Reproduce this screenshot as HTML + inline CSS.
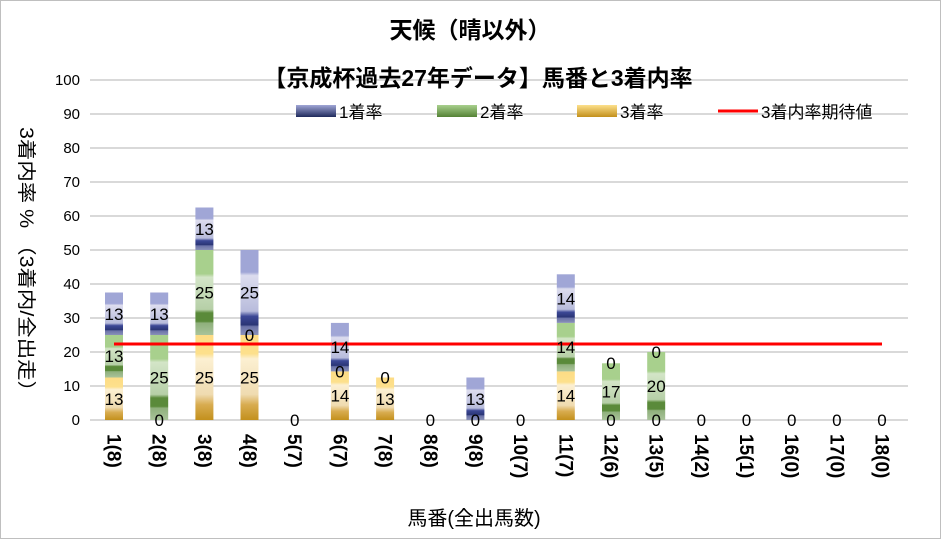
<!DOCTYPE html>
<html><head><meta charset="utf-8"><style>
html,body{margin:0;padding:0;background:#fff}
svg{display:block;font-family:"Liberation Sans","Noto Sans CJK JP",sans-serif}
</style></head><body>
<svg width="941" height="539" viewBox="0 0 941 539" xmlns="http://www.w3.org/2000/svg">
<defs>
<linearGradient id="o" x1="0" y1="1" x2="0" y2="0">
<stop offset="0" stop-color="#c3901c"/><stop offset="0.18" stop-color="#d8ac50"/><stop offset="0.3" stop-color="#efdbb0"/><stop offset="0.72" stop-color="#fcf0d2"/><stop offset="0.78" stop-color="#fde08c"/><stop offset="1" stop-color="#fddc85"/>
</linearGradient>
<linearGradient id="g" x1="0" y1="1" x2="0" y2="0">
<stop offset="0" stop-color="#a9c39a"/><stop offset="0.14" stop-color="#8fb07c"/><stop offset="0.16" stop-color="#5a8a3a"/><stop offset="0.26" stop-color="#5a8a3a"/><stop offset="0.3" stop-color="#b6cfa7"/><stop offset="0.68" stop-color="#d3e5c7"/><stop offset="0.72" stop-color="#a8d08d"/><stop offset="1" stop-color="#a8d08d"/>
</linearGradient>
<linearGradient id="b" x1="0" y1="1" x2="0" y2="0">
<stop offset="0" stop-color="#8a91b8"/><stop offset="0.1" stop-color="#6a72a8"/><stop offset="0.12" stop-color="#2a3575"/><stop offset="0.22" stop-color="#3c4896"/><stop offset="0.28" stop-color="#b8bcdc"/><stop offset="0.7" stop-color="#dcdcee"/><stop offset="0.74" stop-color="#a0a6d6"/><stop offset="1" stop-color="#a0a6d6"/>
</linearGradient>
<linearGradient id="lb" x1="0" y1="0" x2="0" y2="1"><stop offset="0" stop-color="#a0a6d6"/><stop offset="1" stop-color="#1f2a5c"/></linearGradient>
<linearGradient id="lg" x1="0" y1="0" x2="0" y2="1"><stop offset="0" stop-color="#a8d08d"/><stop offset="1" stop-color="#548235"/></linearGradient>
<linearGradient id="lo" x1="0" y1="0" x2="0" y2="1"><stop offset="0" stop-color="#fde08c"/><stop offset="1" stop-color="#c3901c"/></linearGradient>
</defs>
<rect x="0.5" y="0.5" width="940" height="538" fill="#fff" stroke="#bfbfbf"/>
<g stroke="#d9d9d9" stroke-width="2">
<line x1="90" y1="80" x2="908" y2="80"/><line x1="90" y1="114" x2="908" y2="114"/><line x1="90" y1="148" x2="908" y2="148"/><line x1="90" y1="182" x2="908" y2="182"/><line x1="90" y1="216" x2="908" y2="216"/><line x1="90" y1="250" x2="908" y2="250"/><line x1="90" y1="284" x2="908" y2="284"/><line x1="90" y1="318" x2="908" y2="318"/><line x1="90" y1="352" x2="908" y2="352"/><line x1="90" y1="386" x2="908" y2="386"/><line x1="90" y1="420" x2="908" y2="420"/>
</g>
<g font-size="15" fill="#000" text-anchor="end">
<text x="80" y="85">100</text><text x="80" y="119">90</text><text x="80" y="153">80</text><text x="80" y="187">70</text><text x="80" y="221">60</text><text x="80" y="255">50</text><text x="80" y="289">40</text><text x="80" y="323">30</text><text x="80" y="357">20</text><text x="80" y="391">10</text><text x="80" y="425">0</text>
</g>
<rect x="105" y="377.5" width="18" height="42.5" fill="url(#o)"/><rect x="105" y="335" width="18" height="42.5" fill="url(#g)"/><rect x="105" y="292.5" width="18" height="42.5" fill="url(#b)"/>
<rect x="150.2" y="335" width="18" height="85" fill="url(#g)"/><rect x="150.2" y="292.5" width="18" height="42.5" fill="url(#b)"/>
<rect x="195.4" y="335" width="18" height="85" fill="url(#o)"/><rect x="195.4" y="250" width="18" height="85" fill="url(#g)"/><rect x="195.4" y="207.5" width="18" height="42.5" fill="url(#b)"/>
<rect x="240.5" y="335" width="18" height="85" fill="url(#o)"/><rect x="240.5" y="250" width="18" height="85" fill="url(#b)"/>
<rect x="330.9" y="371.4" width="18" height="48.6" fill="url(#o)"/><rect x="330.9" y="322.9" width="18" height="48.5" fill="url(#b)"/>
<rect x="376.1" y="377.5" width="18" height="42.5" fill="url(#o)"/>
<rect x="466.4" y="377.5" width="18" height="42.5" fill="url(#b)"/>
<rect x="556.8" y="371.4" width="18" height="48.6" fill="url(#o)"/><rect x="556.8" y="322.9" width="18" height="48.5" fill="url(#g)"/><rect x="556.8" y="274.3" width="18" height="48.6" fill="url(#b)"/>
<rect x="602" y="363.3" width="18" height="56.7" fill="url(#g)"/>
<rect x="647.2" y="352" width="18" height="68" fill="url(#g)"/>
<line x1="114" y1="344" x2="882" y2="344" stroke="#ff0000" stroke-width="3"/>
<g font-size="17" fill="#000" text-anchor="middle">
<text x="114" y="405">13</text><text x="114" y="362">13</text><text x="114" y="320">13</text>
<text x="159.2" y="426">0</text><text x="159.2" y="383.5">25</text><text x="159.2" y="320">13</text>
<text x="204.4" y="383.5">25</text><text x="204.4" y="298.5">25</text><text x="204.4" y="235">13</text>
<text x="249.5" y="383.5">25</text><text x="249.5" y="341">0</text><text x="249.5" y="298.5">25</text>
<text x="294.7" y="426">0</text>
<text x="339.9" y="401.7">14</text><text x="339.9" y="377.4">0</text><text x="339.9" y="353">14</text>
<text x="385.1" y="405">13</text><text x="385.1" y="383.5">0</text>
<text x="430.3" y="426">0</text>
<text x="475.4" y="426">0</text><text x="475.4" y="405">13</text>
<text x="520.6" y="426">0</text>
<text x="565.8" y="401.7">14</text><text x="565.8" y="353">14</text><text x="565.8" y="304.6">14</text>
<text x="611" y="426">0</text><text x="611" y="397.7">17</text><text x="611" y="369">0</text>
<text x="656.2" y="426">0</text><text x="656.2" y="392">20</text><text x="656.2" y="358">0</text>
<text x="701.3" y="426">0</text><text x="746.5" y="426">0</text><text x="791.7" y="426">0</text><text x="836.9" y="426">0</text><text x="882" y="426">0</text>
</g>
<g font-size="19" font-weight="bold" fill="#000">
<text transform="translate(107.5,434) rotate(90)">1(8)</text>
<text transform="translate(152.7,434) rotate(90)">2(8)</text>
<text transform="translate(197.9,434) rotate(90)">3(8)</text>
<text transform="translate(243,434) rotate(90)">4(8)</text>
<text transform="translate(288.2,434) rotate(90)">5(7)</text>
<text transform="translate(333.4,434) rotate(90)">6(7)</text>
<text transform="translate(378.6,434) rotate(90)">7(8)</text>
<text transform="translate(423.8,434) rotate(90)">8(8)</text>
<text transform="translate(468.9,434) rotate(90)">9(8)</text>
<text transform="translate(514.1,434) rotate(90)">10(7)</text>
<text transform="translate(559.3,434) rotate(90)">11(7)</text>
<text transform="translate(604.5,434) rotate(90)">12(6)</text>
<text transform="translate(649.7,434) rotate(90)">13(5)</text>
<text transform="translate(694.8,434) rotate(90)">14(2)</text>
<text transform="translate(740,434) rotate(90)">15(1)</text>
<text transform="translate(785.2,434) rotate(90)">16(0)</text>
<text transform="translate(830.4,434) rotate(90)">17(0)</text>
<text transform="translate(875.5,434) rotate(90)">18(0)</text>
</g>
<text x="470" y="38" font-size="23" font-weight="bold" text-anchor="middle">天候（晴以外）</text>
<text x="478" y="86" font-size="23" font-weight="bold" text-anchor="middle">【京成杯過去27年データ】馬番と3着内率</text>
<rect x="296" y="105" width="40" height="12" fill="url(#lb)"/><text x="339" y="118" font-size="17">1着率</text>
<rect x="437" y="105" width="40" height="12" fill="url(#lg)"/><text x="480" y="118" font-size="17">2着率</text>
<rect x="577" y="105" width="40" height="12" fill="url(#lo)"/><text x="620" y="118" font-size="17">3着率</text>
<line x1="718" y1="111" x2="758" y2="111" stroke="#ff0000" stroke-width="3"/><text x="761" y="118" font-size="17">3着内率期待値</text>
<text transform="translate(20,127) rotate(90)" font-size="19" textLength="275" lengthAdjust="spacingAndGlyphs">3着内率 %  （3着内/全出走）</text>
<text x="474" y="525" font-size="20" text-anchor="middle">馬番(全出馬数)</text>
</svg>
</body></html>
